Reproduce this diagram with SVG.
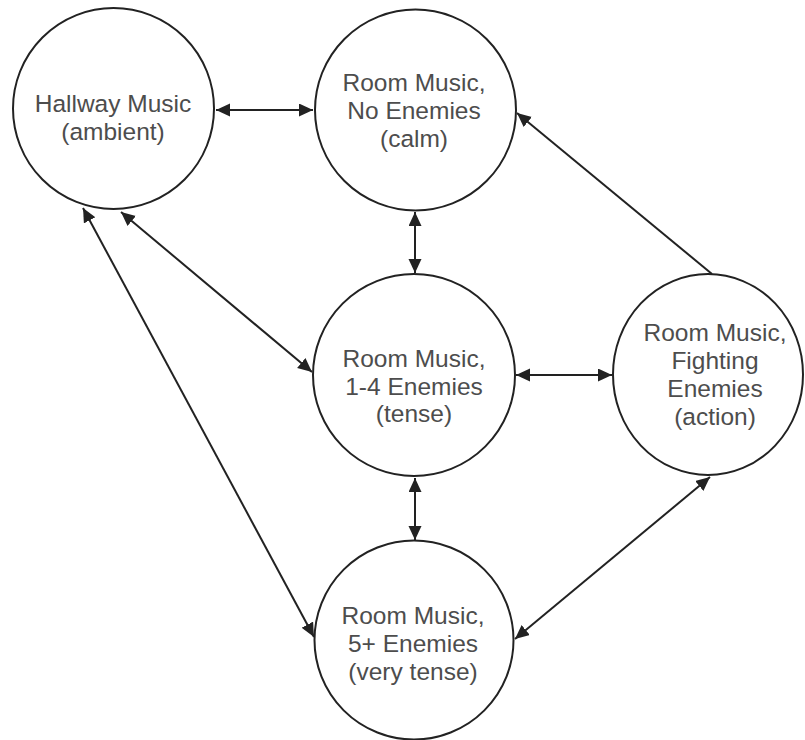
<svg xmlns="http://www.w3.org/2000/svg" width="805" height="740" viewBox="0 0 805 740">
<style>
.node{fill:#fff;stroke:#222;stroke-width:2}
.lbl{font-family:"Liberation Sans",Arial,sans-serif;font-size:24.5px;fill:#4d4d4d;text-anchor:middle}
.edge{stroke:#222;stroke-width:2;fill:none}
</style>
<defs>
<marker id="ah" markerUnits="userSpaceOnUse" markerWidth="15" markerHeight="14" refX="14" refY="6.5" orient="auto-start-reverse" viewBox="0 0 15 14">
<path d="M0,0 L14,6.5 L0,13 z" fill="#222"/>
</marker>
</defs>
<rect width="805" height="740" fill="#fff"/>
<g id="connectors">
<line class="edge" x1="216" y1="110" x2="313" y2="110" marker-start="url(#ah)" marker-end="url(#ah)"/>
<line class="edge" x1="415" y1="212" x2="415" y2="273" marker-start="url(#ah)" marker-end="url(#ah)"/>
<line class="edge" x1="516" y1="375" x2="612" y2="375" marker-start="url(#ah)" marker-end="url(#ah)"/>
<line class="edge" x1="415" y1="478" x2="415" y2="540" marker-start="url(#ah)" marker-end="url(#ah)"/>
<line class="edge" x1="712" y1="274" x2="517" y2="113" marker-end="url(#ah)"/>
<line class="edge" x1="515" y1="639" x2="710" y2="477" marker-start="url(#ah)" marker-end="url(#ah)"/>
<line class="edge" x1="121" y1="212" x2="312" y2="372" marker-start="url(#ah)" marker-end="url(#ah)"/>
<line class="edge" x1="83" y1="208" x2="314" y2="637" marker-start="url(#ah)" marker-end="url(#ah)"/>
</g>
<g id="hallway">
<circle class="node" cx="113.5" cy="108.5" r="100.5"/>
<text class="lbl" x="113" y="112">Hallway Music</text>
<text class="lbl" x="113" y="140">(ambient)</text>
</g>
<g id="room-no-enemies">
<circle class="node" cx="415.5" cy="110" r="100.5"/>
<text class="lbl" x="414" y="91">Room Music,</text>
<text class="lbl" x="414" y="119">No Enemies</text>
<text class="lbl" x="414" y="147">(calm)</text>
</g>
<g id="room-1-4">
<circle class="node" cx="414" cy="375" r="101"/>
<text class="lbl" x="414" y="367">Room Music,</text>
<text class="lbl" x="414" y="395">1-4 Enemies</text>
<text class="lbl" x="414" y="422">(tense)</text>
</g>
<g id="room-fighting">
<ellipse class="node" cx="708" cy="374.5" rx="95" ry="100.5"/>
<text class="lbl" x="715" y="341">Room Music,</text>
<text class="lbl" x="715" y="369">Fighting</text>
<text class="lbl" x="715" y="397">Enemies</text>
<text class="lbl" x="715" y="425">(action)</text>
</g>
<g id="room-5plus">
<circle class="node" cx="414" cy="640" r="99.5"/>
<text class="lbl" x="413" y="624">Room Music,</text>
<text class="lbl" x="413" y="652">5+ Enemies</text>
<text class="lbl" x="413" y="680">(very tense)</text>
</g>
</svg>
